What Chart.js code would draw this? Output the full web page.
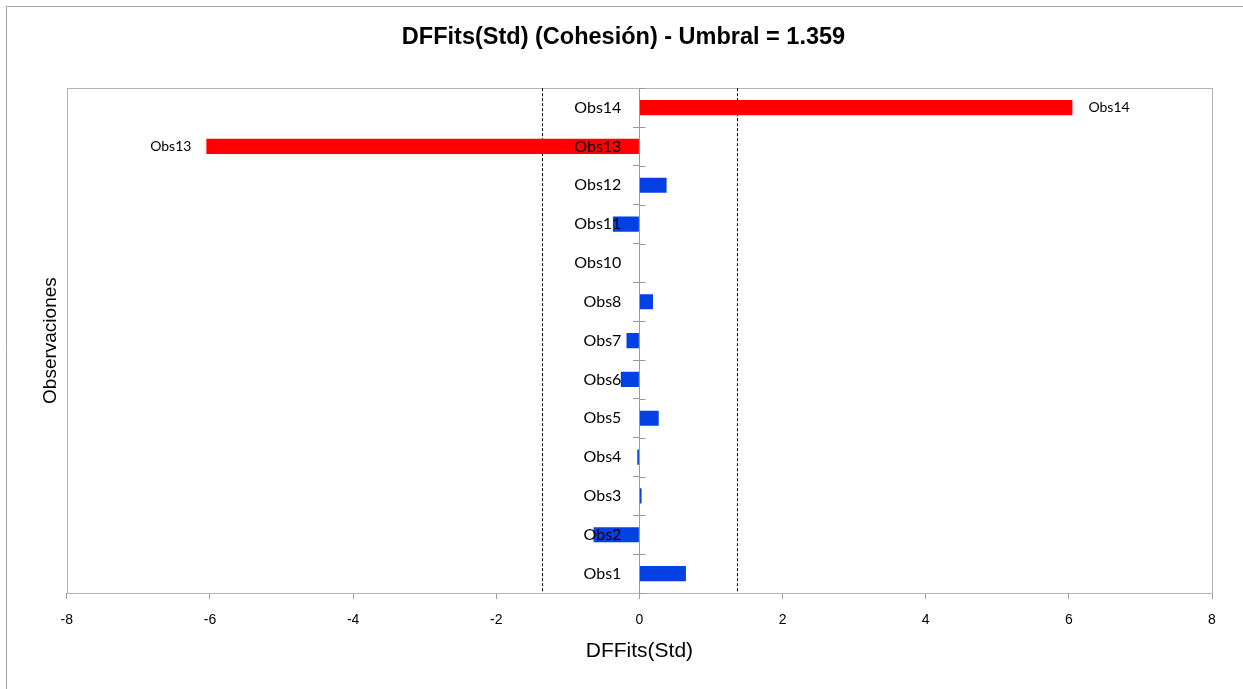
<!DOCTYPE html>
<html>
<head>
<meta charset="utf-8">
<script src="https://cdn.jsdelivr.net/npm/chart.js@4.4.1/dist/chart.umd.min.js"></script>
<style>
    html, body { margin: 0; padding: 0; background: #fff; }
    canvas { display: block; }
</style>
</head>
<body>
<canvas id="myChart" width="1243" height="689"></canvas>
<script>
'use strict';
// data
let obsNames = ['Obs1', 'Obs2', 'Obs3', 'Obs4', 'Obs5', 'Obs6', 'Obs7', 'Obs8', 'Obs10', 'Obs11', 'Obs12', 'Obs13', 'Obs14'];
let dffits = [0.65, -0.64, 0.03, -0.03, 0.27, -0.26, -0.18, 0.19, 0, -0.37, 0.38, -6.05, 6.05];
let xTicks = [-8, -6, -4, -2, 0, 2, 4, 6, 8];
let umbral = 1.359;
let labelledObs = ['Obs13', 'Obs14'];

let redColor = '#ff0000';
let blueColor = '#0341e4';
let lineGray = '#9a9a9a';

let barColors = dffits.map(v => Math.abs(v) > umbral ? redColor : blueColor);

// outer frame + plot area border + threshold lines
let framePlugin = {
    id: 'frame',
    beforeDatasetsDraw(chart) {
        let ctx = chart.ctx;
        let a = chart.chartArea;
        ctx.save();
        ctx.strokeStyle = '#a0a0a0';
        ctx.lineWidth = 1;
        ctx.beginPath();
        ctx.moveTo(6.5, chart.height);
        ctx.lineTo(6.5, 6.5);
        ctx.lineTo(chart.width, 6.5);
        ctx.stroke();
        ctx.strokeStyle = '#b4b4b4';
        ctx.strokeRect(Math.round(a.left) + 0.5, Math.round(a.top) + 0.5, Math.round(a.right - a.left), Math.round(a.bottom - a.top));

        let xs = chart.scales.x;
        ctx.strokeStyle = '#000';
        ctx.setLineDash([3, 2]);
        [-umbral, umbral].forEach(u => {
            let px = Math.round(xs.getPixelForValue(u)) + 0.5;
            ctx.beginPath();
            ctx.moveTo(px, a.top);
            ctx.lineTo(px, a.bottom);
            ctx.stroke();
        });
        ctx.restore();
    }
};

// category names next to the zero axis, and names at the end of the outlying bars
let barLabelPlugin = {
    id: 'barLabels',
    afterDatasetsDraw(chart) {
        let ctx = chart.ctx;
        let meta = chart.getDatasetMeta(0);
        let ys = chart.scales.y;
        let x0 = chart.scales.x.getPixelForValue(0);
        ctx.save();

        // right half of the crossing tick marks on the zero axis
        ctx.strokeStyle = lineGray;
        ctx.lineWidth = 1;
        for (let i = 0; i <= obsNames.length; i++) {
            let py = Math.round(ys.getPixelForValue(i - 0.5)) + 0.5;
            ctx.beginPath();
            ctx.moveTo(x0, py);
            ctx.lineTo(x0 + 6, py);
            ctx.stroke();
        }

        ctx.fillStyle = '#000';
        ctx.textBaseline = 'middle';
        ctx.font = '16px Lato';
        ctx.textAlign = 'right';
        for (let i = 0; i < obsNames.length; i++) {
            ctx.fillText(obsNames[i], x0 - 18, ys.getPixelForTick(i));
        }

        ctx.font = '14px Lato';
        for (let i = 0; i < obsNames.length; i++) {
            if (!labelledObs.includes(obsNames[i])) continue;
            let bar = meta.data[i];
            if (dffits[i] >= 0) {
                ctx.textAlign = 'left';
                ctx.fillText(obsNames[i], bar.x + 16, bar.y);
            } else {
                ctx.textAlign = 'right';
                ctx.fillText(obsNames[i], bar.x - 15, bar.y);
            }
        }
        ctx.restore();
    }
};

let ctx = document.getElementById('myChart').getContext('2d');
let myChart = new Chart(ctx, {
    type: 'bar',
    data: {
        labels: obsNames,
        datasets: [{
            label: 'DFFits(Std)',
            data: dffits,
            backgroundColor: barColors,
            borderWidth: 0,
            categoryPercentage: 1,
            barPercentage: 0.39
        }]
    },
    options: {
        indexAxis: 'y',
        responsive: false,
        animation: false,
        devicePixelRatio: 1,
        layout: { padding: { left: 35, right: 31, top: 0, bottom: 21 } },
        plugins: {
            legend: { display: false },
            tooltip: { enabled: false },
            title: {
                display: true,
                text: 'DFFits(Std) (Cohesión) - Umbral = 1.359',
                color: '#000',
                font: { family: 'Liberation Sans', size: 23.5, weight: 'bold' },
                padding: { top: 23, bottom: 37 }
            }
        },
        scales: {
            x: {
                type: 'linear',
                min: xTicks[0],
                max: xTicks[xTicks.length - 1],
                afterBuildTicks: (axis) => { axis.ticks = xTicks.map(v => ({ value: v })); },
                ticks: { color: '#000', font: { family: 'Liberation Sans', size: 14 }, padding: 13 },
                grid: { display: true, drawOnChartArea: false, drawTicks: true, tickLength: 6, color: lineGray },
                border: { display: true, color: lineGray },
                title: {
                    display: true,
                    text: 'DFFits(Std)',
                    color: '#000',
                    font: { family: 'Liberation Sans', size: 21 },
                    padding: { top: -3, bottom: 4 }
                }
            },
            y: {
                type: 'category',
                reverse: true,
                position: { x: 0 },
                z: 1,
                grid: { display: true, drawOnChartArea: false, drawTicks: true, tickLength: 6, color: lineGray, offset: true },
                border: { display: true, color: lineGray },
                ticks: { display: false, autoSkip: false }
            },
            yTitle: {
                type: 'category',
                axis: 'y',
                position: 'left',
                reverse: true,
                grid: { display: false, drawTicks: false },
                border: { display: false },
                ticks: { display: false },
                title: {
                    display: true,
                    text: 'Observaciones',
                    color: '#000',
                    font: { family: 'Liberation Sans', size: 19 },
                    padding: { top: 4, bottom: 5 }
                }
            }
        }
    },
    plugins: [framePlugin, barLabelPlugin]
});
</script>
</body>
</html>
